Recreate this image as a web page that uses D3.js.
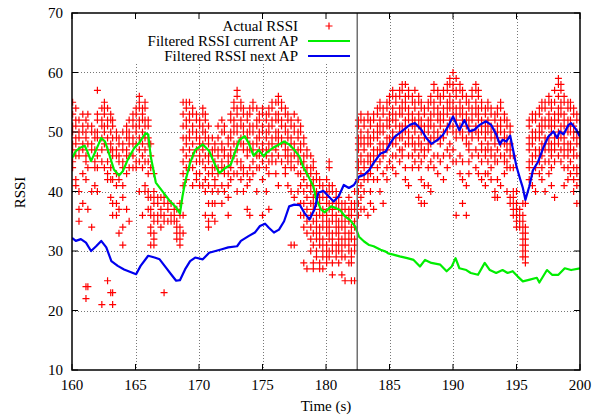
<!DOCTYPE html>
<html>
<head>
<meta charset="utf-8">
<script src="https://cdn.jsdelivr.net/npm/d3@7"></script>
<style>
  body { margin: 0; background: #fff; }
  svg text { font-family: "Liberation Serif", "Times New Roman", Times, serif; font-size: 15px; fill: #000; }
</style>
</head>
<body>
<div id="chart"></div>
<script>
// 1: DATA
const xTicks = [160, 165, 170, 175, 180, 185, 190, 195, 200];
const yTicks = [10, 20, 30, 40, 50, 60, 70];
const handoverTime = 182.46;

// actual RSSI samples: [time, [rssi values seen around that time]]
const actualRssi = [
  [160.05,[55,53,51,50,48,47,45,44]],
  [160.30,[54,52,51,49,48,46,42,41]],
  [160.55,[52,50,49,47,46,40,37,35]],
  [160.85,[53,51,50,48,47,43,38]],
  [161.10,[52,50,49,46,45,42,24,22]],
  [161.25,[53,51,48,44,37,24]],
  [161.55,[51,50,48,47,40,34]],
  [161.80,[50,49,47,45,44,41]],
  [162.00,[57,53,52,50,49,46,44,40]],
  [162.35,[54,52,51,49,47,45,21]],
  [162.55,[55,54,53,51,50,48,44]],
  [162.80,[54,52,51,49,47,45,43,42,25]],
  [163.05,[53,52,50,48,47,44,42,39,23]],
  [163.20,[52,51,49,47,46,42,38,36,23,21]],
  [163.50,[50,49,47,46,43,41,38,36]],
  [163.70,[49,48,46,45,42,37,33]],
  [164.00,[50,48,47,45,44,41,39,34,31]],
  [164.30,[51,50,49,47,46,43,37]],
  [164.50,[52,50,49,48,46,44,35]],
  [164.80,[53,52,51,49,48,46,44]],
  [165.05,[54,53,51,50,48,45,44]],
  [165.30,[56,55,54,52,51,49,47,45,40]],
  [165.55,[54,53,52,50,48,46,44,36]],
  [165.75,[55,54,52,51,49,47,45,41,40]],
  [166.00,[52,51,49,48,45,43,40,39,37]],
  [166.20,[48,46,44,39,37,36,34,33,31]],
  [166.45,[43,40,39,38,36,35,33,32,31]],
  [166.75,[39,38,36,35]],
  [167.00,[39,37,36,34]],
  [167.25,[39,38,36,35,23]],
  [167.55,[38,37,35]],
  [167.80,[38,36,35]],
  [168.05,[37,36,35]],
  [168.25,[37,35,34,33,32]],
  [168.50,[38,36,34,33,32,31]],
  [168.75,[55,53,51,49,47,45,43,41,36,33]],
  [169.00,[55,54,52,51,49,48,46,44,42]],
  [169.25,[55,53,52,50,49,47,45,44]],
  [169.50,[54,53,51,50,48,46,44,41]],
  [169.80,[53,52,50,49,47,45,43,42]],
  [170.05,[52,51,49,48,46,45,43,41]],
  [170.30,[54,53,51,50,48,47,45,41]],
  [170.50,[53,52,50,49,46,44,42,40,36]],
  [170.75,[51,49,48,46,45,43,41,38,35,34]],
  [171.05,[49,47,46,44,43,40,38,36]],
  [171.25,[48,47,45,44,42,41,38,35]],
  [171.50,[51,49,47,46,44,43,40]],
  [171.80,[52,50,48,47,45,44,41,38]],
  [172.00,[51,50,47,46,44,43,40]],
  [172.30,[49,48,46,45,43,41,39,36]],
  [172.50,[53,52,50,49,47,46,44,42]],
  [172.75,[55,54,52,51,50,48,46,43]],
  [173.00,[57,56,54,53,51,50,48,47,45,43,40]],
  [173.30,[55,54,52,51,49,48,45,44,42]],
  [173.50,[54,53,51,50,48,47,44,43,40]],
  [173.80,[53,52,50,49,47,46,43,41,37]],
  [174.00,[54,53,51,50,48,47,44,42,36]],
  [174.25,[55,54,51,50,48,47,45,43]],
  [174.55,[54,52,51,49,48,46,44,40]],
  [174.75,[53,52,50,49,47,46,44]],
  [175.00,[54,53,51,50,48,47,45,42,36]],
  [175.30,[53,52,50,49,47,46,44,40]],
  [175.50,[54,53,51,50,48,47,45,43,37]],
  [175.75,[55,54,52,51,49,48,46,45]],
  [176.05,[55,53,52,50,49,47,45,43]],
  [176.25,[56,55,53,52,50,49,48,46,41]],
  [176.50,[55,54,52,51,49,48,45]],
  [176.80,[54,53,51,50,48,47,46,44,43]],
  [177.00,[53,52,50,49,47,46,45,41]],
  [177.25,[52,51,49,48,46,45,44,40,31]],
  [177.50,[53,51,50,48,47,46,44,39,31]],
  [177.80,[52,50,49,47,46,45,43,40]],
  [178.00,[51,50,48,47,45,43,41,38,36]],
  [178.25,[49,48,46,45,44,42,40,38,36,34,28]],
  [178.50,[47,46,44,43,41,39,37,35,33,27]],
  [178.80,[46,44,43,41,40,38,36,34,32,30]],
  [179.00,[45,44,42,41,39,38,37,35,33,31,28,27]],
  [179.25,[43,42,40,39,38,36,35,34,33,32,30,29]],
  [179.50,[42,41,39,38,37,36,34,33,32,31,28,27]],
  [179.75,[41,40,39,37,36,35,34,32,31,30,29,27]],
  [180.05,[42,40,39,38,36,35,34,33,31,30,29,28]],
  [180.25,[45,44,41,40,38,37,35,34,33,32,30,29]],
  [180.50,[41,40,38,37,36,35,33,32,31,30,28,26]],
  [180.80,[40,39,38,36,35,34,33,31,30,29]],
  [181.00,[39,38,37,35,34,33,32,31,30,28]],
  [181.25,[38,37,36,35,34,32,31,30,29,26]],
  [181.50,[38,37,35,34,33,32,31,29,25]],
  [181.80,[39,37,36,35,33,32,31,30,28]],
  [182.00,[38,37,36,34,33,32,30,29,28,25]],
  [182.25,[40,38,37,35,34,32,31,30,25]],
  [182.55,[52,51,49,48,47,45,44,42,40,38,36]],
  [182.75,[53,52,50,49,48,46,45,43,41,39,37]],
  [183.00,[52,51,49,48,47,45,44,42,40,37]],
  [183.30,[53,52,50,49,48,46,45,43,42,36]],
  [183.50,[52,51,49,48,46,45,44,43,40,38]],
  [183.75,[53,52,50,49,47,46,45,42,37]],
  [184.05,[54,53,51,50,49,47,46,44,42]],
  [184.25,[55,54,52,51,50,48,47,45,40]],
  [184.50,[54,53,51,50,48,47,46,43,38]],
  [184.80,[55,54,52,51,49,48,47,44,42]],
  [185.00,[56,55,53,52,51,49,48,45]],
  [185.25,[57,56,54,53,52,50,49,48,46,44]],
  [185.50,[56,55,53,52,51,49,48,46,43]],
  [185.80,[57,56,54,53,51,50,49,47,45]],
  [186.00,[58,57,55,54,53,51,50,49,47,46]],
  [186.25,[58,56,55,54,52,51,50,48,44,42]],
  [186.50,[57,56,54,53,52,50,49,48,46,41]],
  [186.80,[56,55,53,52,51,49,48,46,44]],
  [187.00,[57,55,54,52,51,50,48,47,45]],
  [187.30,[56,55,53,52,51,49,48,46,44,39]],
  [187.50,[55,54,52,51,50,48,47,45,42,38]],
  [187.75,[54,53,51,50,49,47,46,41,38]],
  [188.05,[55,54,52,51,50,48,47,44,41]],
  [188.25,[56,55,53,52,51,49,48,45,40]],
  [188.50,[58,57,55,54,53,51,50,49,46,44]],
  [188.80,[57,56,54,53,52,50,49,46,43]],
  [189.00,[56,55,53,52,51,49,48,45]],
  [189.25,[57,56,54,53,52,50,49,46,42]],
  [189.55,[58,57,55,54,53,51,50,47,44]],
  [189.75,[59,58,56,55,54,52,51,48,46]],
  [190.00,[60,58,57,55,54,53,51,50,47,45]],
  [190.25,[59,57,56,54,53,52,50,49,45,36]],
  [190.55,[58,57,55,54,53,51,50,46,43]],
  [190.75,[57,56,54,53,52,50,49,45,42,38]],
  [191.05,[56,55,53,52,51,49,48,41,36]],
  [191.25,[55,54,52,51,50,48,47,45,43]],
  [191.50,[57,56,54,53,52,50,49,46]],
  [191.80,[58,57,55,54,53,51,50,47,44]],
  [192.00,[57,56,54,53,52,50,49,46,43]],
  [192.25,[55,54,52,51,50,48,47,45,42]],
  [192.55,[54,53,51,50,49,47,46,43,41]],
  [192.75,[55,54,52,51,50,48,47,45,43]],
  [193.00,[54,53,51,50,49,47,46,44,42]],
  [193.30,[53,52,50,49,48,46,45,40,39]],
  [193.50,[54,53,51,50,49,47,45,42,39]],
  [193.75,[55,54,52,51,50,48,46,41]],
  [194.05,[53,52,50,49,48,46,45,43]],
  [194.25,[52,51,49,48,47,45,44,40]],
  [194.50,[51,50,48,47,46,44,39,38]],
  [194.75,[46,44,40,39,38,37,36]],
  [195.00,[40,38,37,36,35,34]],
  [195.25,[37,36,35,34]],
  [195.50,[38,36,35,34,33,32,31,30,29]],
  [195.70,[38,34,33,32,31,30,29,28]],
  [196.00,[52,51,49,48,47,45,44,42]],
  [196.25,[53,52,50,49,48,46,45,43,41]],
  [196.50,[53,52,50,49,47,46,44,40]],
  [196.80,[54,53,51,50,49,47,46,45,43]],
  [197.00,[55,54,52,51,50,48,47,46,44,42]],
  [197.25,[55,54,52,51,49,48,47,45,40]],
  [197.55,[56,55,53,52,51,49,48,47,45,43]],
  [197.75,[55,54,52,51,50,48,47,46,44,41]],
  [198.00,[57,55,53,52,51,49,48,47,45,39]],
  [198.30,[59,58,56,54,53,52,50,49,48,46]],
  [198.50,[58,57,55,54,53,51,50,49,47,45]],
  [198.75,[56,55,53,52,51,49,48,47,46,44,41]],
  [199.05,[55,54,52,51,50,48,47,46,44,42]],
  [199.25,[55,54,52,51,50,48,47,45,43]],
  [199.50,[54,53,51,50,49,47,46,44,42,40]],
  [199.75,[53,52,50,49,48,46,44,43,41,38]],
  [200.00,[52,50,49,48,46,44,42,38]]
];

// filtered RSSI of the current AP: [time, rssi]
const currentAp = [
  [160.0,45.6],[160.3,46.8],[160.6,47.3],[161.0,47.7],[161.2,46.8],[161.5,45.1],[161.9,47.0],
  [162.3,49.0],[162.6,48.4],[162.9,46.5],[163.3,43.7],[163.7,42.7],[164.0,43.4],[164.4,45.4],
  [164.9,47.3],[165.3,48.2],[165.8,49.8],[166.0,49.6],[166.2,45.9],[166.6,41.5],[167.2,39.8],
  [167.7,38.4],[168.2,37.3],[168.5,36.3],[168.7,39.2],[168.9,41.5],[169.3,44.8],[169.7,47.0],
  [170.3,47.9],[170.8,46.8],[171.2,44.8],[171.6,43.1],[172.1,44.0],[172.5,44.5],[172.9,47.0],
  [173.2,48.7],[173.6,49.3],[173.9,48.2],[174.3,46.0],[174.7,47.0],[175.1,45.9],[175.3,46.5],
  [175.8,47.3],[176.3,47.9],[176.7,48.4],[177.1,47.9],[177.5,47.0],[177.9,45.9],[178.2,44.2],
  [178.6,42.6],[179.0,40.9],[179.2,38.9],[179.6,37.0],[179.9,36.5],[180.4,37.5],[180.8,37.2],
  [181.1,36.9],[181.5,35.8],[181.9,35.2],[182.3,34.1],[182.6,32.4],[183.0,31.6],[183.4,31.0],
  [183.75,30.8],[184.3,30.2],[184.7,29.9],[184.9,29.6],[185.3,29.4],[185.8,29.1],[186.4,28.8],
  [186.9,28.5],[187.4,27.4],[187.8,28.5],[188.3,28.0],[189.0,27.7],[189.5,26.6],[189.9,27.4],
  [190.2,28.8],[190.5,27.1],[191.05,26.8],[191.4,26.3],[191.97,26.0],[192.5,28.0],[192.9,26.8],
  [193.4,26.3],[193.9,26.8],[194.3,26.3],[194.7,26.6],[195.1,25.7],[195.5,24.9],[196.05,25.2],
  [196.6,25.5],[196.8,24.7],[197.4,26.8],[197.8,26.0],[198.3,26.0],[198.8,27.1],[199.3,26.8],
  [200.0,27.1]
];

// filtered RSSI of the next AP: [time, rssi]
const nextAp = [
  [160.0,32.2],[160.3,31.7],[160.7,32.0],[161.1,31.4],[161.5,30.0],[161.9,30.8],[162.3,31.7],
  [162.7,30.6],[163.1,28.3],[163.6,27.5],[164.1,26.9],[164.7,26.4],[165.05,26.1],[165.4,27.5],
  [166.0,29.2],[166.5,28.9],[166.9,28.6],[167.4,27.2],[167.8,26.1],[168.2,25.0],[168.5,25.1],
  [168.9,26.9],[169.3,28.3],[169.7,28.9],[170.3,28.6],[170.8,29.7],[171.3,30.0],[171.8,30.3],
  [172.3,30.6],[173.0,30.8],[173.3,31.7],[173.9,32.5],[174.4,33.1],[174.8,34.2],[175.2,34.6],
  [175.5,33.9],[175.9,33.1],[176.3,33.6],[176.7,35.0],[177.1,37.5],[177.5,37.8],[177.95,37.7],
  [178.3,36.4],[178.7,35.3],[179.1,37.0],[179.4,39.8],[179.8,40.1],[180.2,39.2],[180.6,38.3],
  [181.0,39.2],[181.4,41.1],[181.8,40.6],[182.2,41.1],[182.6,42.5],[183.0,42.8],[183.4,43.6],
  [183.75,44.8],[184.3,46.4],[184.7,46.7],[185.05,48.1],[185.4,49.2],[185.96,50.1],[186.6,51.2],
  [187.0,51.5],[187.5,50.4],[187.9,49.0],[188.3,48.0],[188.8,48.7],[189.2,49.5],[189.6,50.9],
  [190.0,52.6],[190.5,50.3],[190.9,52.0],[191.3,50.1],[191.7,50.4],[192.1,51.2],[192.6,51.8],
  [193.0,51.2],[193.4,49.6],[193.7,47.9],[193.9,48.7],[194.2,48.4],[194.5,49.4],[194.7,47.3],
  [195.0,44.2],[195.3,42.0],[195.5,40.6],[195.7,38.6],[196.0,40.8],[196.3,43.6],[196.7,45.0],
  [197.1,47.3],[197.5,49.2],[197.9,50.1],[198.2,49.0],[198.4,50.1],[198.7,49.6],[199.1,51.2],
  [199.3,51.5],[199.7,50.4],[200.0,49.2]
];

const legendLabels = ["Actual RSSI", "Filtered RSSI current AP", "Filtered RSSI next AP"];

// 2: SVG SETUP
const margin = { top: 13, right: 20, bottom: 47, left: 72 };
const width = 600 - margin.left - margin.right;
const height = 417 - margin.top - margin.bottom;

const svgRoot = d3.select("#chart")
    .append("svg")
    .attr("width", width + margin.left + margin.right)
    .attr("height", height + margin.top + margin.bottom)
    .attr("font-family", "'Liberation Serif', 'Times New Roman', serif");

const svg = svgRoot.append("g")
    .attr("transform", `translate(${margin.left},${margin.top})`);

// 3: SCALES
const xScale = d3.scaleLinear().domain([160, 200]).range([0, width]);
const yScale = d3.scaleLinear().domain([10, 70]).range([height, 0]);

// 4: GRID (dotted)
const grid = svg.append("g")
    .attr("stroke", "#777")
    .attr("stroke-width", 1)
    .attr("stroke-dasharray", "1,2");

grid.selectAll(".vgrid")
    .data(xTicks.slice(1, -1))
    .join("line")
    .attr("x1", d => Math.round(xScale(d)) + 0.5)
    .attr("x2", d => Math.round(xScale(d)) + 0.5)
    .attr("y1", 0)
    .attr("y2", height);

grid.selectAll(".hgrid")
    .data(yTicks.slice(1, -1))
    .join("line")
    .attr("x1", 0)
    .attr("x2", width)
    .attr("y1", d => Math.round(yScale(d)) + 0.5)
    .attr("y2", d => Math.round(yScale(d)) + 0.5);

// legend box (opaque) sits over the grid
svg.append("rect")
    .attr("x", 58)
    .attr("y", 1)
    .attr("width", 224)
    .attr("height", 50)
    .attr("fill", "#fff");

// 5: PLOT DATA
svg.append("clipPath").attr("id", "plotClip")
    .append("rect").attr("width", width).attr("height", height);

const plot = svg.append("g").attr("clip-path", "url(#plotClip)");

const points = actualRssi.flatMap(([t, vals]) => vals.map(v => ({ t, v })));

const cross = (x, y, r) => `M${x - r},${y}h${2 * r}M${x},${y - r}v${2 * r}`;

plot.append("path")
    .attr("fill", "none")
    .attr("stroke", "#ff0000")
    .attr("stroke-width", 1.2)
    .attr("d", points.map(d => cross(xScale(d.t), yScale(d.v), 3.5)).join(""));

const line = d3.line()
    .x(d => xScale(d[0]))
    .y(d => yScale(d[1]));

plot.append("path")
    .datum(currentAp)
    .attr("fill", "none")
    .attr("stroke", "#00ee00")
    .attr("stroke-width", 2.2)
    .attr("stroke-linejoin", "round")
    .attr("d", line);

plot.append("path")
    .datum(nextAp)
    .attr("fill", "none")
    .attr("stroke", "#0000ee")
    .attr("stroke-width", 2.2)
    .attr("stroke-linejoin", "round")
    .attr("d", line);

// handover marker
svg.append("line")
    .attr("x1", xScale(handoverTime))
    .attr("x2", xScale(handoverTime))
    .attr("y1", 0)
    .attr("y2", height)
    .attr("stroke", "#707070")
    .attr("stroke-width", 1.5);

// 6: AXES (ticks on all four sides, pointing inward)
const tickLen = 6;
const ticks = svg.append("g").attr("stroke", "#000").attr("stroke-width", 1);

xTicks.forEach(d => {
    const x = xScale(d);
    ticks.append("line").attr("x1", x).attr("x2", x).attr("y1", height).attr("y2", height - tickLen);
    ticks.append("line").attr("x1", x).attr("x2", x).attr("y1", 0).attr("y2", tickLen);
});
yTicks.forEach(d => {
    const y = yScale(d);
    ticks.append("line").attr("x1", 0).attr("x2", tickLen).attr("y1", y).attr("y2", y);
    ticks.append("line").attr("x1", width).attr("x2", width - tickLen).attr("y1", y).attr("y2", y);
});

svg.append("rect")
    .attr("width", width)
    .attr("height", height)
    .attr("fill", "none")
    .attr("stroke", "#000")
    .attr("stroke-width", 1.5);

svg.selectAll(".xlab")
    .data(xTicks)
    .join("text")
    .attr("x", d => xScale(d))
    .attr("y", height + 20)
    .attr("text-anchor", "middle")
    .text(d => d);

svg.selectAll(".ylab")
    .data(yTicks)
    .join("text")
    .attr("x", -9)
    .attr("y", d => yScale(d) + 5)
    .attr("text-anchor", "end")
    .text(d => d);

// axis labels
svg.append("text")
    .attr("x", width / 2)
    .attr("y", height + 41)
    .attr("text-anchor", "middle")
    .text("Time (s)");

svg.append("text")
    .attr("transform", `translate(${-47},${height / 2 + 1}) rotate(-90)`)
    .attr("text-anchor", "middle")
    .text("RSSI");

// 7: LEGEND
const legend = svg.append("g").attr("transform", "translate(226, 0)");

legendLabels.forEach((label, i) => {
    const row = legend.append("g").attr("transform", `translate(0, ${13 + i * 15})`);
    row.append("text")
        .attr("x", 0)
        .attr("y", 5)
        .attr("text-anchor", "end")
        .text(label);
});

legend.append("path")
    .attr("transform", "translate(31, 13)")
    .attr("fill", "none")
    .attr("stroke", "#ff0000")
    .attr("stroke-width", 1.2)
    .attr("d", cross(0, 0, 3.5));

legend.append("line")
    .attr("x1", 10).attr("x2", 52).attr("y1", 28).attr("y2", 28)
    .attr("stroke", "#00ee00").attr("stroke-width", 2.2);

legend.append("line")
    .attr("x1", 10).attr("x2", 52).attr("y1", 43).attr("y2", 43)
    .attr("stroke", "#0000ee").attr("stroke-width", 2.2);
</script>
</body>
</html>
